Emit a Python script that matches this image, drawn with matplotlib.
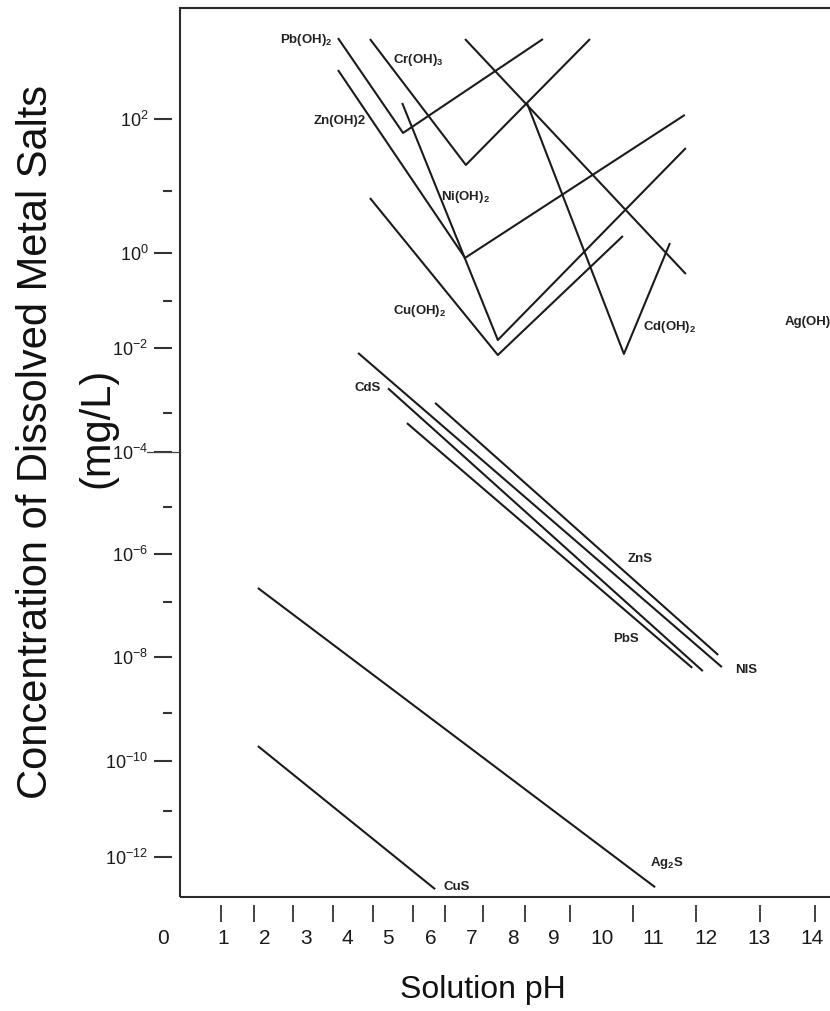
import numpy as np
import matplotlib
matplotlib.use("Agg")
import matplotlib.pyplot as plt
from matplotlib.ticker import FixedLocator, FixedFormatter, NullFormatter
from matplotlib.patches import Rectangle
import matplotlib.transforms as mtransforms

# ---------------- data (pH, concentration mg/L) ----------------
ph_pb_oh = [3.78, 5.35, 8.73]
c_pb_oh = [1330, 64, 1290]
ph_cr_oh = [4.56, 6.85, 9.75]
c_cr_oh = [1290, 23, 1290]
ph_zn_oh = [3.78, 6.83, 11.60]
c_zn_oh = [479, 0.79, 114]
ph_ni_oh = [5.33, 7.63, 11.62]
c_ni_oh = [167, 0.0148, 39.5]
ph_cu_oh = [4.56, 7.63, 10.41]
c_cu_oh = [7.7, 0.0078, 1.88]
ph_cd_oh = [8.34, 10.43, 11.32]
c_cd_oh = [167, 0.0081, 1.45]
ph_ag_oh = [6.83, 11.62]
c_ag_oh = [1290, 0.365]

ph_nis = [4.27, 12.30]
c_nis = [8.4e-3, 6.6e-9]
ph_cds = [5.00, 11.94]
c_cds = [2.4e-3, 5.6e-9]
ph_zns = [6.10, 12.23]
c_zns = [1.43e-3, 1.09e-8]
ph_pbs = [5.44, 11.74]
c_pbs = [5.5e-4, 6.4e-9]
ph_ag2s = [1.83, 11.04]
c_ag2s = [1.96e-7, 2.2e-13]
ph_cus = [1.83, 6.10]
c_cus = [2.05e-10, 2.0e-13]

x_tick_values = list(range(15))
x_tick_labels = [str(v) for v in x_tick_values]
y_major_exp = [2, 0, -2, -4, -6, -8, -10, -12]
y_minor_exp = [1, -1, -3, -5, -7, -9, -11]

# series labels: (text, pH, conc, ha)
series_labels = [
    ("Pb(OH)$_\\mathbf{2}$", 3.00, 1260, "center"),
    ("Cr(OH)$_\\mathbf{3}$", 5.70, 661, "center"),
    ("Zn(OH)2", 3.83, 94, "center"),
    ("Ni(OH)$_\\mathbf{2}$", 6.85, 8.0, "center"),
    ("Cu(OH)$_\\mathbf{2}$", 5.74, 0.061, "center"),
    ("Cd(OH)$_\\mathbf{2}$", 11.32, 0.028, "center"),
    ("Ag(OH)", 13.49, 0.0357, "left"),
    ("CdS", 4.51, 2.4e-3, "center"),
    ("ZnS", 10.75, 7.9e-7, "center"),
    ("PbS", 10.47, 2.1e-8, "center"),
    ("NIS", 12.75, 5.9e-9, "center"),
    ("Ag$_\\mathbf{2}$S", 11.26, 7.4e-13, "center"),
    ("CuS", 6.63, 2.2e-13, "center"),
]

# ---------------- axis geometry (layout, pixels of the page) ----------------
PH_KNOT_PX = np.array([163, 223, 265, 306, 347, 388, 431, 472, 513, 554,
                       602, 653, 706, 759, 812], float)
PH_KNOTS = np.arange(15, dtype=float)
E_KNOTS = np.arange(-12, 3, dtype=float)
E_KNOT_PX = np.array([857, 811, 761, 713, 657, 602, 554, 507, 452, 413,
                      348, 301, 253, 191, 119], float)
U_KNOTS = -E_KNOT_PX
MARK_PX = [221, 254, 293, 333, 373, 413, 445, 483, 525, 570, 633, 696, 760, 815]

W, H = 830, 1011
AX_L, AX_R, AX_T, AX_B = 150, 835, 8, 897
FRAME_L = 180


def extrap_interp(v, xp, fp):
    v = np.asarray(v, dtype=float)
    out = np.interp(v, xp, fp)
    lo = (fp[1] - fp[0]) / (xp[1] - xp[0])
    hi = (fp[-1] - fp[-2]) / (xp[-1] - xp[-2])
    out = np.where(v < xp[0], fp[0] + (v - xp[0]) * lo, out)
    out = np.where(v > xp[-1], fp[-1] + (v - xp[-1]) * hi, out)
    return out


def x_fwd(x):
    return extrap_interp(x, PH_KNOTS, PH_KNOT_PX)


def x_inv(u):
    return extrap_interp(u, PH_KNOT_PX, PH_KNOTS)


def y_fwd(y):
    with np.errstate(all="ignore"):
        e = np.log10(np.asarray(y, dtype=float))
    return extrap_interp(e, E_KNOTS, U_KNOTS)


def y_inv(u):
    return 10.0 ** extrap_interp(u, U_KNOTS, E_KNOTS)


plt.rcParams["font.family"] = ["Liberation Sans", "DejaVu Sans"]
plt.rcParams["mathtext.fontset"] = "custom"
plt.rcParams["mathtext.rm"] = "Liberation Sans"
plt.rcParams["mathtext.it"] = "Liberation Sans:italic"
plt.rcParams["mathtext.bf"] = "Liberation Sans:bold"

fig = plt.figure(figsize=(W / 100, H / 100), dpi=100)
ax = fig.add_axes([AX_L / W, (H - AX_B) / H, (AX_R - AX_L) / W, (AX_B - AX_T) / H])
ax.set_xscale("function", functions=(x_fwd, x_inv))
ax.set_yscale("function", functions=(y_fwd, y_inv))
ax.set_xlim(float(x_inv(AX_L)), float(x_inv(AX_R)))
ax.set_ylim(float(y_inv(-AX_B)), float(y_inv(-AX_T)))

ink = "#1b1b1b"
series = [
    (ph_pb_oh, c_pb_oh), (ph_cr_oh, c_cr_oh), (ph_zn_oh, c_zn_oh),
    (ph_ni_oh, c_ni_oh), (ph_cu_oh, c_cu_oh), (ph_cd_oh, c_cd_oh),
    (ph_ag_oh, c_ag_oh), (ph_nis, c_nis), (ph_cds, c_cds), (ph_zns, c_zns),
    (ph_pbs, c_pbs), (ph_ag2s, c_ag2s), (ph_cus, c_cus),
]
for xs, ys in series:
    ax.plot(xs, ys, color=ink, lw=1.5, solid_capstyle="butt")

for txt, xv, yv, ha in series_labels:
    ax.text(xv, yv, txt, ha=ha, va="center", fontsize=9.5, fontweight="bold",
            color="#222222", clip_on=False)

# frame (drawn separately so tick marks can float off it)
fx = (FRAME_L - AX_L) / (AX_R - AX_L)
ax.add_patch(Rectangle((fx, 0), 1.2, 1, transform=ax.transAxes, fill=False,
                       edgecolor="#2a2a2a", lw=1.5, clip_on=False))
for s in ax.spines.values():
    s.set_visible(False)

# x axis: labels + detached tick marks
ax.spines["bottom"].set_position(("outward", 8 * 0.72))
ax.xaxis.set_major_locator(FixedLocator(x_tick_values))
ax.xaxis.set_major_formatter(FixedFormatter(x_tick_labels))
mark_ph = [float(v) for v in x_inv(MARK_PX)]
ax.xaxis.set_minor_locator(FixedLocator(mark_ph))
ax.xaxis.set_minor_formatter(NullFormatter())
ax.tick_params(axis="x", which="major", length=0, pad=17, labelsize=15,
               labelcolor="#1a1a1a")
ax.tick_params(axis="x", which="minor", length=12.2, width=1.3, color="#333333",
               direction="out")

# y axis: detached tick marks
ax.spines["left"].set_position(("axes", (172 - AX_L) / (AX_R - AX_L)))
ax.yaxis.set_major_locator(FixedLocator([10.0 ** e for e in y_major_exp]))
ax.yaxis.set_major_formatter(FixedFormatter(
    ["$\\mathregular{10^{%d}}$" % e for e in y_major_exp]))
ax.yaxis.set_minor_locator(FixedLocator([10.0 ** e for e in y_minor_exp]))
ax.yaxis.set_minor_formatter(NullFormatter())
ax.tick_params(axis="y", which="major", length=13, width=1.5, pad=4,
               labelsize=13, color="#333333", labelcolor="#1a1a1a", direction="out")
ax.tick_params(axis="y", which="minor", length=6.5, width=1.5, color="#333333",
               direction="out")
ax.tick_params(top=False, right=False, which="both")

# the 10^-4 leader line that reaches the frame
blend = mtransforms.blended_transform_factory(ax.transAxes, ax.transData)
ax.plot([(147 - AX_L) / (AX_R - AX_L), fx], [1e-4, 1e-4], color="#444444",
        lw=0.9, transform=blend, clip_on=False)

fig.text(36 / W, 1 - 442 / H, "Concentration of Dissolved Metal Salts",
         rotation=90, ha="center", va="center", fontsize=30, color="#111111")
fig.text(97 / W, 1 - 428 / H, "(mg/L)",
         rotation=90, ha="center", va="center", fontsize=30, color="#111111")
fig.text(483 / W, 1 - 990 / H, "Solution pH", ha="center", va="center",
         fontsize=23, color="#111111")

fig.savefig("out.png", dpi=100)
